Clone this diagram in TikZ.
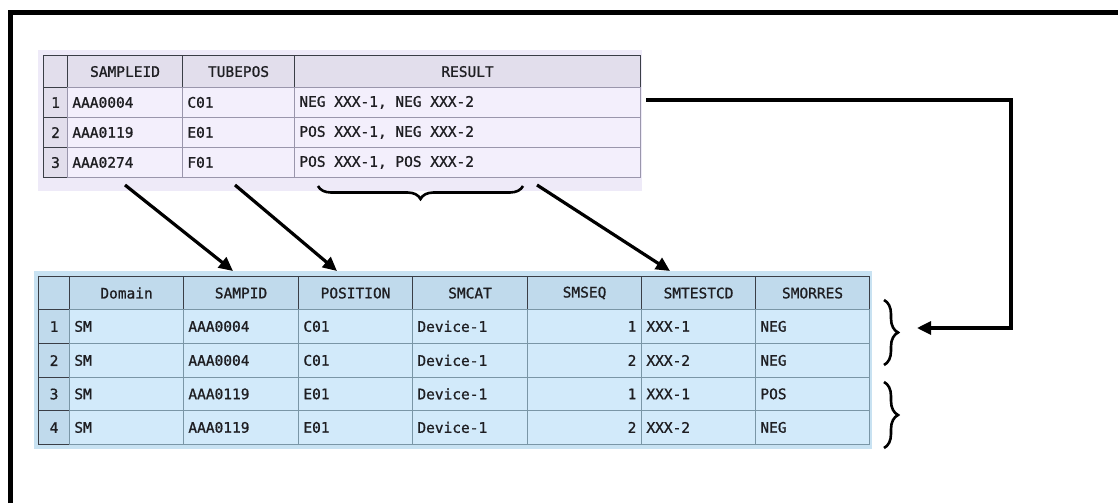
\documentclass[tikz,border=0pt]{standalone}
\usepackage{fontspec}
\setmonofont[FakeBold=1]{DejaVu Sans Mono}
\usetikzlibrary{arrows.meta,decorations.pathreplacing}
\definecolor{lavBg}{HTML}{EEEAF8}
\definecolor{lavCell}{HTML}{F3EFFC}
\definecolor{lavHdr}{HTML}{E2DEEC}
\definecolor{lavGrid}{HTML}{9A96AC}
\definecolor{bluBg}{HTML}{C8E2F2}
\definecolor{bluCell}{HTML}{D2EAFA}
\definecolor{bluHdr}{HTML}{C0DAEC}
\definecolor{bluGrid}{HTML}{7A96A6}
\definecolor{hdrLine}{HTML}{3A3E46}
\definecolor{txtCol}{HTML}{1E1E22}
\newcommand\mycell[8]{%
  \pgfmathsetmacro\cw{#5-#3-10}\pgfmathsetmacro\ch{#6-#4}%
  \node[#1, anchor=north west, inner xsep=5pt, inner ysep=0pt, text width=\cw pt,
        align=#7, minimum height=\ch pt] (#2) at (#3,#4) {#8};}
\begin{document}
\begin{tikzpicture}[x=1pt,y=-1pt,
  every node/.style={font=\fontsize{14.5}{16}\selectfont\ttfamily, text=txtCol},
  tcell/.style={fill=lavCell, draw=lavGrid, line width=0.8pt},
  thdr/.style={fill=lavHdr, draw=hdrLine, line width=1.1pt},
  bcell/.style={fill=bluCell, draw=bluGrid, line width=0.8pt},
  bhdr/.style={fill=bluHdr, draw=hdrLine, line width=1.1pt},
  arr/.style={line width=3.2pt, -{Triangle[length=14pt,width=13pt]}, line join=miter},
  brc/.style={line width=2.6pt, decorate, decoration={brace, amplitude=#1}},
]
\useasboundingbox (0,0) rectangle (1118,503);
\fill[white] (0,0) rectangle (1118,503);
% outer frame
\draw[line width=5pt] (10,503) -- (10,12.5) -- (1118,12.5);

% ---------- top table ----------
\node[fill=lavBg, anchor=north west, inner sep=0pt, minimum width=604pt, minimum height=141pt] (tbg) at (38,50) {};
\mycell{thdr}{t00}{43}{55}{67}{87}{center}{}
\mycell{thdr}{t01}{67}{55}{182}{87}{center}{SAMPLEID}
\mycell{thdr}{t02}{182}{55}{294}{87}{center}{TUBEPOS}
\mycell{thdr}{t03}{294}{55}{640}{87}{center}{RESULT}
\foreach \r/\ya/\yb/\a/\b/\c in {1/87/117/AAA0004/C01/{NEG XXX-1, NEG XXX-2},
                                 2/117/147/AAA0119/E01/{POS XXX-1, NEG XXX-2},
                                 3/147/177/AAA0274/F01/{POS XXX-1, POS XXX-2}}{
  \mycell{thdr}{t\r0}{43}{\ya}{67}{\yb}{center}{\r}
  \mycell{tcell}{t\r1}{67}{\ya}{182}{\yb}{flush left}{\a}
  \mycell{tcell}{t\r2}{182}{\ya}{294}{\yb}{flush left}{\b}
  \mycell{tcell}{t\r3}{294}{\ya}{640}{\yb}{flush left}{\c}
}

% ---------- bottom table ----------
\node[fill=bluBg, anchor=north west, inner sep=0pt, minimum width=838pt, minimum height=178pt] (bbg) at (34,271) {};
\mycell{bhdr}{b00}{38}{276}{69}{309}{center}{}
\mycell{bhdr}{b01}{69}{276}{183}{309}{center}{Domain}
\mycell{bhdr}{b02}{183}{276}{298}{309}{center}{SAMPID}
\mycell{bhdr}{b03}{298}{276}{412}{309}{center}{POSITION}
\mycell{bhdr}{b04}{412}{276}{527}{309}{center}{SMCAT}
\mycell{bhdr}{b05}{527}{276}{641}{309}{center}{SMSEQ}
\mycell{bhdr}{b06}{641}{276}{755}{309}{center}{SMTESTCD}
\mycell{bhdr}{b07}{755}{276}{869}{309}{center}{SMORRES}
\foreach \r/\ya/\yb/\b/\c/\e/\f/\g in {1/309/343/AAA0004/C01/1/XXX-1/NEG,
                                      2/343/377/AAA0004/C01/2/XXX-2/NEG,
                                      3/377/410/AAA0119/E01/1/XXX-1/POS,
                                      4/410/444/AAA0119/E01/2/XXX-2/NEG}{
  \mycell{bhdr}{b\r0}{38}{\ya}{69}{\yb}{center}{\r}
  \mycell{bcell}{b\r1}{69}{\ya}{183}{\yb}{flush left}{SM}
  \mycell{bcell}{b\r2}{183}{\ya}{298}{\yb}{flush left}{\b}
  \mycell{bcell}{b\r3}{298}{\ya}{412}{\yb}{flush left}{\c}
  \mycell{bcell}{b\r4}{412}{\ya}{527}{\yb}{flush left}{Device-1}
  \mycell{bcell}{b\r5}{527}{\ya}{641}{\yb}{flush right}{\e}
  \mycell{bcell}{b\r6}{641}{\ya}{755}{\yb}{flush left}{\f}
  \mycell{bcell}{b\r7}{755}{\ya}{869}{\yb}{flush left}{\g}
}

% ---------- connectors ----------
\coordinate (s1) at (125,185); \coordinate (e1) at (233,271);
\coordinate (s2) at (235,185); \coordinate (e2) at (337,271);
\coordinate (s3) at (537,185); \coordinate (e3) at (670,271);
\draw[arr] (s1) -- (e1);
\draw[arr] (s2) -- (e2);
\draw[arr] (s3) -- (e3);

\coordinate (rs) at (646,100);
\coordinate (rc1) at (1011,100);
\coordinate (rc2) at (1011,328);
\coordinate (re) at (917,328);
\draw[arr] (rs) -- (rc1) -- (rc2) -- (re);

% braces
\coordinate (bt1) at (523,186); \coordinate (bt2) at (318,186);
\draw[brc=13pt] (bt1) -- (bt2);
\coordinate (br1) at (884,300); \coordinate (br2) at (884,365);
\draw[brc=14pt] (br1) -- (br2);
\coordinate (br3) at (884,382); \coordinate (br4) at (884,448);
\draw[brc=14pt] (br3) -- (br4);
\end{tikzpicture}
\end{document}
